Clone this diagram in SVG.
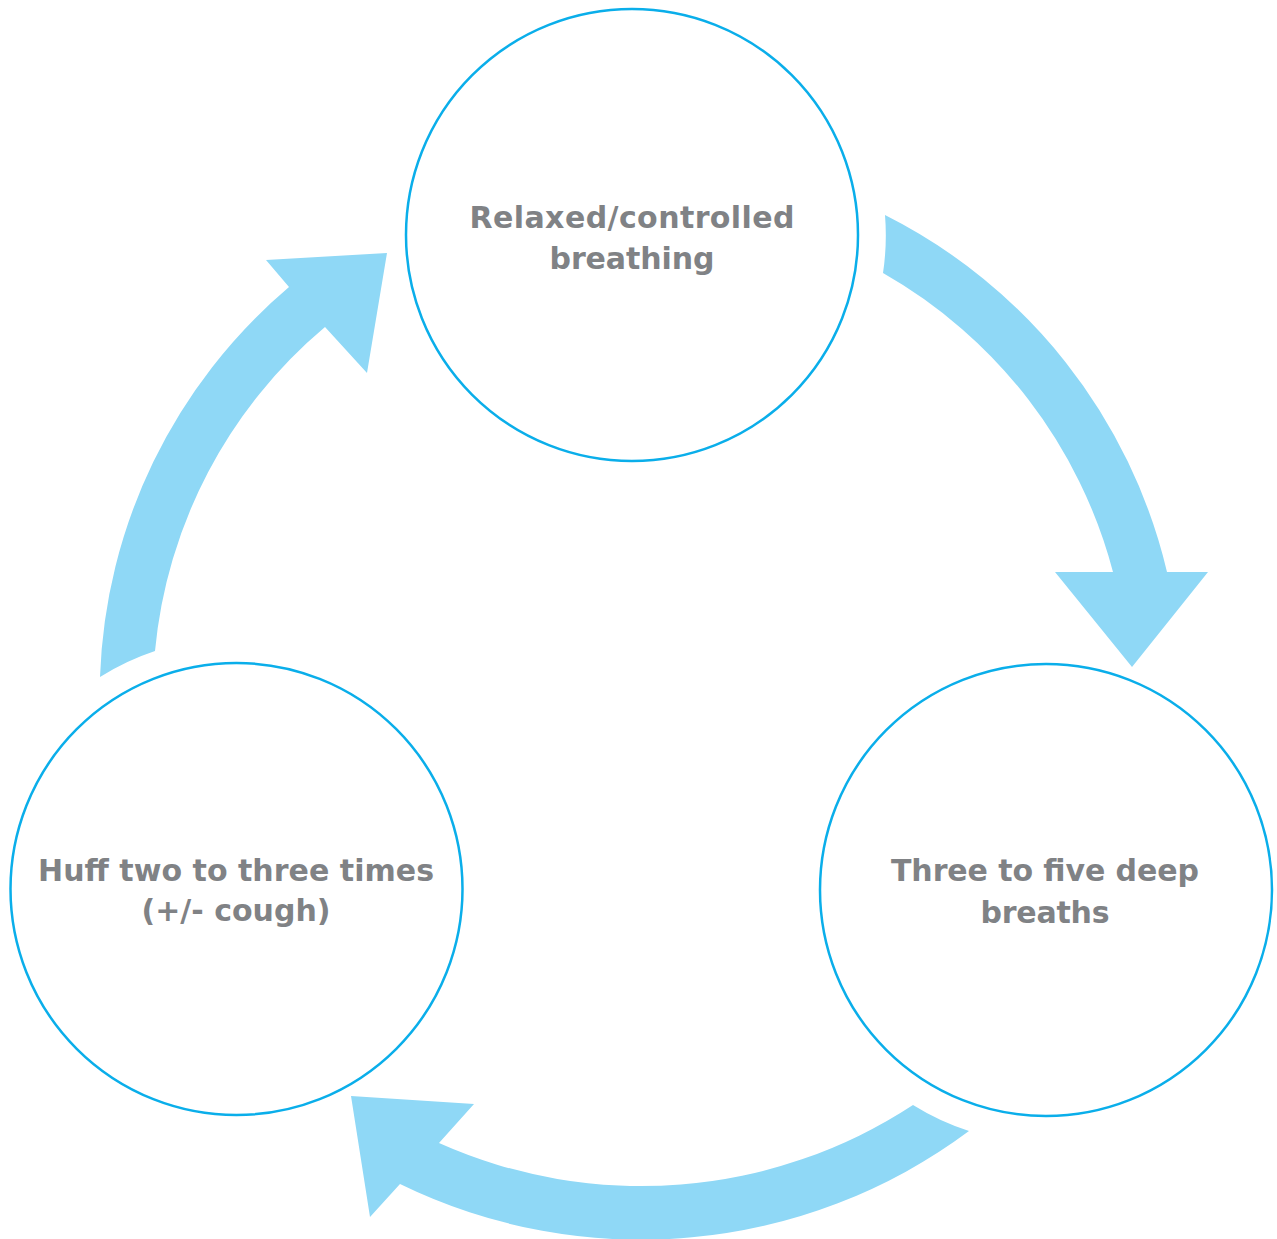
<svg xmlns="http://www.w3.org/2000/svg" width="1277" height="1239" viewBox="0 0 1277 1239">
<style>
.node circle{fill:#fff;stroke:#0aaeea;stroke-width:2.5}
.node text{font-family:"DejaVu Sans","Liberation Sans",sans-serif;font-weight:bold;font-size:30px;fill:#808285;text-anchor:middle}
.arrow{fill:#8fd8f6;stroke:none}
</style>
<rect width="1277" height="1239" fill="#fff"/>
<g id="connectors">
<path class="arrow" d="M885,215 A538,538 0 0 1 1167,572 L1208,572 L1132,667 L1055,572 L1113,572 A486,486 0 0 0 883,273 A253,253 0 0 0 885,215 Z"/>
<path class="arrow" d="M969,1131 A549,549 0 0 1 400,1184 L370,1217 L351,1096 L474,1104 L439,1143 A496,496 0 0 0 913,1105 A252,252 0 0 0 969,1131 Z"/>
<path class="arrow" d="M100,677 A535,535 0 0 1 289,287 L266,260 L387,253 L367,373 L325,327 A482,482 0 0 0 155,651 A252,252 0 0 0 100,677 Z"/>
</g>
<g id="node-relaxed" class="node">
<circle cx="632" cy="235" r="226"/>
<text x="632" y="228" textLength="325" lengthAdjust="spacing">Relaxed/controlled</text>
<text x="632" y="269" textLength="165" lengthAdjust="spacing">breathing</text>
</g>
<g id="node-deep" class="node">
<circle cx="1046" cy="890" r="226"/>
<text x="1045" y="881" textLength="308" lengthAdjust="spacing">Three to five deep</text>
<text x="1045" y="923" textLength="129" lengthAdjust="spacing">breaths</text>
</g>
<g id="node-huff" class="node">
<circle cx="236.5" cy="889" r="226"/>
<text x="236" y="881" textLength="396" lengthAdjust="spacing">Huff two to three times</text>
<text x="236" y="921" textLength="189" lengthAdjust="spacing">(+/- cough)</text>
</g>
</svg>
